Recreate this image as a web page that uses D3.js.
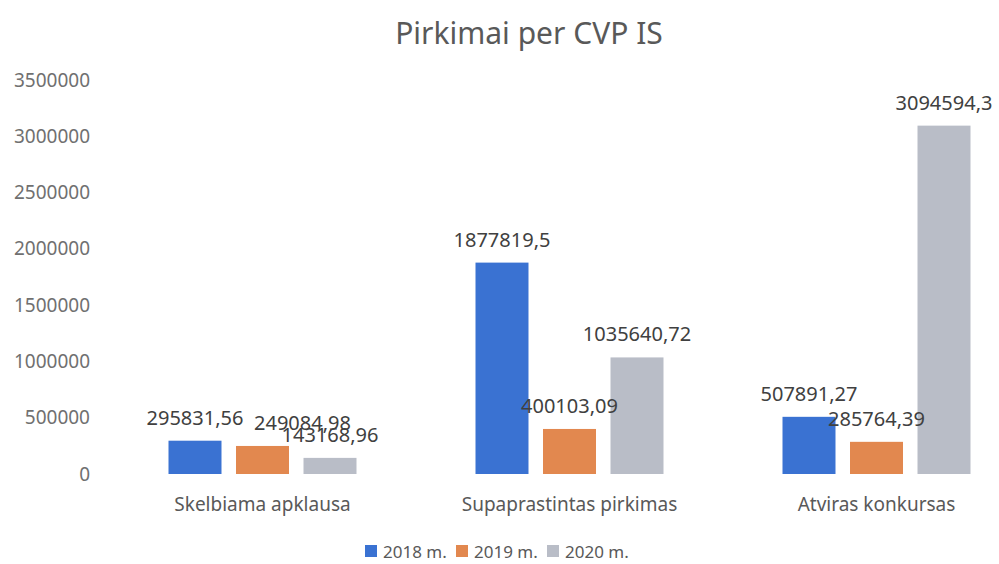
<html>
<head>
  <meta charset="utf-8">
  <script src="https://d3js.org/d3.v7.min.js"></script>
  <style>
    body { margin: 0; background: white; }
    text { font-family: "Noto Sans", sans-serif; }
  </style>
</head>
<body>
  <svg id="chart" width="999" height="564"></svg>
  <script>
    // data
    const categories = ["Skelbiama apklausa", "Supaprastintas pirkimas", "Atviras konkursas"];
    const years = ["2018 m.", "2019 m.", "2020 m."];
    const values2018 = [295831.56, 1877819.5, 507891.27];
    const values2019 = [249084.98, 400103.09, 285764.39];
    const values2020 = [143168.96, 1035640.72, 3094594.3];
    const labels2018 = ["295831,56", "1877819,5", "507891,27"];
    const labels2019 = ["249084,98", "400103,09", "285764,39"];
    const labels2020 = ["143168,96", "1035640,72", "3094594,3"];
    const yTicks = [0, 500000, 1000000, 1500000, 2000000, 2500000, 3000000, 3500000];

    const colors = ["#3a72d2", "#e2884f", "#b9bdc7"];
    const series = [values2018, values2019, values2020];
    const seriesLabels = [labels2018, labels2019, labels2020];

    let svg = d3.select("svg#chart");

    let y = d3.scaleLinear().domain([0, 3500000]).range([474, 80]);
    let x0 = d3.scaleBand().domain(categories).range([109, 1030]);
    let x1 = d3.scaleBand().domain(years).range([59.5, 247.5]).paddingInner(0.215);

    // title
    svg.append("text")
      .text("Pirkimai per CVP IS")
      .attr("x", 529)
      .attr("y", 44)
      .style("font-size", "30px")
      .style("fill", "#595959")
      .style("text-anchor", "middle");

    // y axis, labels only
    let yAxis = d3.axisLeft(y)
      .tickValues(yTicks)
      .tickFormat(d3.format("d"))
      .tickSize(0)
      .tickPadding(0);
    let ya = svg.append("g").attr("transform", "translate(90,0)").call(yAxis);
    ya.select(".domain").remove();
    ya.selectAll("text")
      .style("font-family", "Noto Sans")
      .style("font-size", "19px")
      .style("fill", "#707070");

    // category labels
    categories.forEach((c) => {
      svg.append("text")
        .text(c)
        .attr("x", x0(c) + x0.bandwidth() / 2)
        .attr("y", 511)
        .style("font-size", "19px")
        .style("fill", "#595959")
        .style("text-anchor", "middle");
    });

    // bars first
    series.forEach((vals, s) => {
      vals.forEach((v, i) => {
        svg.append("rect")
          .attr("x", x0(categories[i]) + x1(years[s]))
          .attr("y", y(v))
          .attr("width", x1.bandwidth())
          .attr("height", y(0) - y(v))
          .style("fill", colors[s]);
      });
    });

    // then value labels on top
    series.forEach((vals, s) => {
      vals.forEach((v, i) => {
        let bx = x0(categories[i]) + x1(years[s]);
        // the 2019 label of the first group was dragged sideways in the original
        let nudge = (s == 1 && i == 0) ? 40 : 0;
        svg.append("text")
          .text(seriesLabels[s][i])
          .attr("x", bx + x1.bandwidth() / 2 + nudge)
          .attr("y", y(v) - 16)
          .style("font-size", "20px")
          .style("fill", "#404040")
          .style("text-anchor", "middle");
      });
    });

    // legend
    years.forEach((yr, i) => {
      let lx = 365 + i * 91;
      svg.append("rect")
        .attr("x", lx)
        .attr("y", 545)
        .attr("width", 12)
        .attr("height", 12)
        .style("fill", colors[i]);
      svg.append("text")
        .text(yr)
        .attr("x", lx + 18)
        .attr("y", 558)
        .style("font-size", "17px")
        .style("fill", "#595959");
    });
  </script>
</body>
</html>
